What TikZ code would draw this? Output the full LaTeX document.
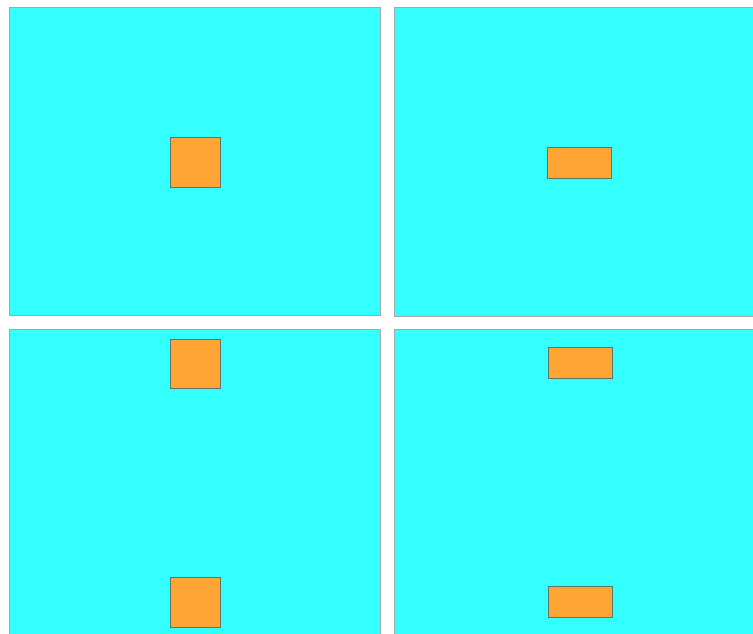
\documentclass[tikz,border=0pt]{standalone}
\begin{document}
\begin{tikzpicture}[x=1pt,y=-1pt,
  panel/.style={fill=panelcyan,draw=panelgray,line width=0.8pt},
  box/.style={fill=boxorange,draw=boxedge,line width=0.6pt}]
\definecolor{panelcyan}{HTML}{33FFFF}
\definecolor{panelgray}{HTML}{A0A8A8}
\definecolor{boxorange}{HTML}{FFA533}
\definecolor{boxedge}{HTML}{5E7468}
\useasboundingbox (0,0) rectangle (753,633);
\clip (0,0) rectangle (753,633);
\fill[white] (0,0) rectangle (753,633);
% panels
\draw[panel] (9,7) rectangle (380,315);
\draw[panel] (394,7) rectangle (760,316);
\draw[panel] (9,329) rectangle (380,640);
\draw[panel] (394,329) rectangle (760,640);
% boxes
\draw[box] (170,137) rectangle (220,187);
\draw[box] (547,147) rectangle (611,178);
\draw[box] (170,339) rectangle (220,388);
\draw[box] (170,577) rectangle (220,627);
\draw[box] (548,347) rectangle (612,378);
\draw[box] (548,586) rectangle (612,617);
\end{tikzpicture}
\end{document}
